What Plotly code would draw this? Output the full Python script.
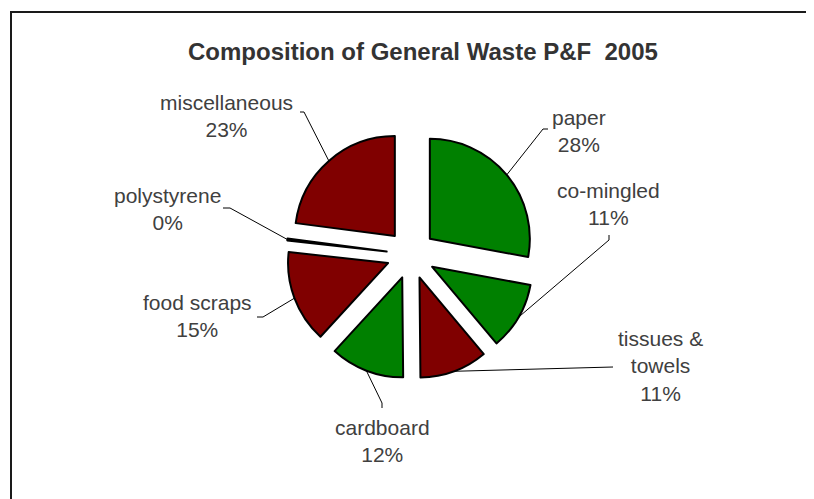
import math
import plotly.graph_objects as go

# ---- data ----
categories = ["paper", "co-mingled", "tissues &<br>towels", "cardboard",
              "food scraps", "polystyrene", "miscellaneous"]
values = [28, 11, 11, 12, 15, 0.3, 23]
colors = ["#008000", "#008000", "#800000", "#008000",
          "#800000", "#800000", "#800000"]
title_text = "Composition of General Waste P&F\u00a0 2005"

# ---- layout constants (pixels in the screenshot) ----
W, H = 814, 499
OFF = 8                  # page body margin
CX, CY = 411, 254.5      # pie centre
R = 100                  # slice radius
PULL = 0.245             # explode fraction of radius

# label block centres
label_pos = [(579, 131), (608, 204), (660, 366), (382, 441),
             (197, 316), (167, 209), (227, 116)]
# leader-line knee: (start point, knee point)
knees = [((548, 129), (543, 129)),
         ((609, 235), (609, 240)),
         ((613, 367), (613, 367)),
         ((382, 408), (382, 403)),
         ((257, 317), (263, 317)),
         ((223, 208), (230, 208)),
         ((300, 112), (304, 112))]

def px(x):
    return (x - OFF) / W

def py(y):
    return 1 - (y - OFF) / H

half = R * (1 + PULL)
fig = go.Figure(go.Pie(
    labels=categories,
    values=values,
    sort=False,
    direction="clockwise",
    rotation=0,
    pull=[PULL] * len(values),
    marker=dict(colors=colors, line=dict(color="black", width=2)),
    textinfo="none",
    hoverinfo="label+percent",
    showlegend=False,
    domain=dict(x=[px(CX - half), px(CX + half)],
                y=[py(CY + half), py(CY - half)]),
))

total = sum(values)
shapes = [dict(type="rect", xref="paper", yref="paper",
               x0=px(11), y0=py(12), x1=px(W + 40), y1=py(H + 40),
               line=dict(color="#1a1a1a", width=2), layer="below")]
annotations = []
cum = 0
for cat, v, (lx, ly), (k0, k1) in zip(categories, values, label_pos, knees):
    mid = (cum + v / 2) / total * 2 * math.pi
    cum += v
    dist = R * (1 + PULL)
    sx = CX + dist * math.sin(mid)
    sy = CY - dist * math.cos(mid)
    shapes.append(dict(type="path", xref="paper", yref="paper",
                       path=f"M {px(k0[0])} {py(k0[1])} L {px(k1[0])} {py(k1[1])} L {px(sx)} {py(sy)}",
                       line=dict(color="black", width=1)))
    pct = round(v / total * 100)
    annotations.append(dict(xref="paper", yref="paper", x=px(lx), y=py(ly),
                            text=f"{cat}<br>{pct}%", showarrow=False,
                            xanchor="center", yanchor="middle", align="center",
                            font=dict(family="Liberation Sans, Arial", size=21,
                                      color="#404040")))

annotations.append(dict(xref="paper", yref="paper", x=px(423), y=py(52),
                        text=f"<b>{title_text}</b>", showarrow=False,
                        xanchor="center", yanchor="middle",
                        font=dict(family="Liberation Sans, Arial", size=24,
                                  color="#333333")))

fig.update_layout(width=W, height=H, margin=dict(l=0, r=0, t=0, b=0),
                  paper_bgcolor="white", plot_bgcolor="white",
                  shapes=shapes, annotations=annotations)
fig.write_html("out.html")
